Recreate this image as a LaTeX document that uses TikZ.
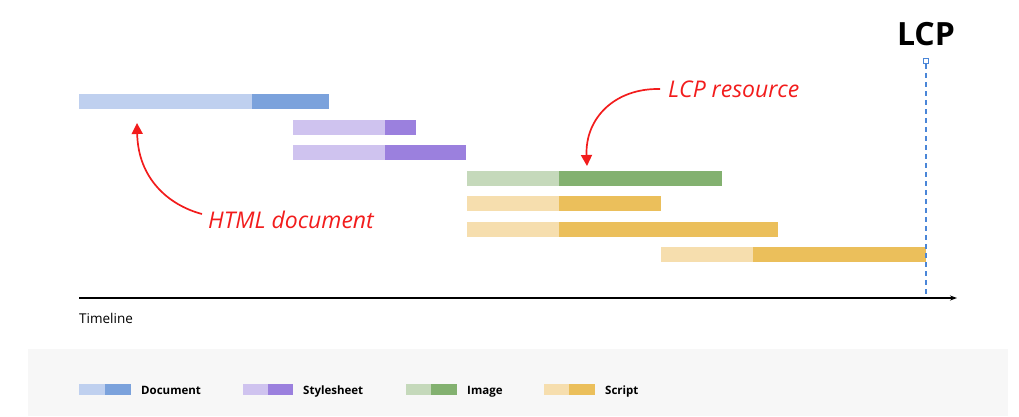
\documentclass[tikz,border=0pt]{standalone}
\usepackage{fontspec}
\setmainfont{Open Sans}
\usetikzlibrary{arrows.meta}
\definecolor{docL}{HTML}{BFD0EF}
\definecolor{docD}{HTML}{7BA2DC}
\definecolor{cssL}{HTML}{CFC3EF}
\definecolor{cssD}{HTML}{9B80DE}
\definecolor{imgL}{HTML}{C5D9BB}
\definecolor{imgD}{HTML}{83B170}
\definecolor{jsL}{HTML}{F6DEAE}
\definecolor{jsD}{HTML}{EBBF5B}
\definecolor{lcpblue}{HTML}{4A86D8}
\definecolor{legbg}{HTML}{F7F7F7}
\definecolor{annot}{HTML}{F21C1C}
\tikzset{
  anno/.style={text=annot, font=\fontsize{23}{25}\selectfont\itshape, inner sep=0pt},
  annoarrow/.style={draw=annot, line width=1.7pt, -{Triangle[length=11pt,width=11pt]}},
  legtext/.style={font=\fontsize{11.5}{13}\selectfont\bfseries, anchor=base west, inner sep=0pt},
}
\begin{document}
\begin{tikzpicture}[x=1pt,y=-1pt]
\useasboundingbox (0,0) rectangle (1019,416);
% legend background
\fill[legbg] (28,349) rectangle (1008,416);
% row 1 document
\fill[docL] (79,94) rectangle (252,109);
\fill[docD] (252,94) rectangle (329,109);
\coordinate (doctarget) at (137,123);
% row 2 stylesheet
\fill[cssL] (293,119.5) rectangle (385,134.5);
\fill[cssD] (385,119.5) rectangle (416,134.5);
% row 3 stylesheet
\fill[cssL] (293,145) rectangle (385,160);
\fill[cssD] (385,145) rectangle (466,160);
% row 4 image
\fill[imgL] (467,171) rectangle (559,186);
\fill[imgD] (559,171) rectangle (722,186);
\coordinate (imgtarget) at (587,166);
% row 5 script
\fill[jsL] (467,196) rectangle (559,211);
\fill[jsD] (559,196) rectangle (661,211);
% row 6 script
\fill[jsL] (467,222) rectangle (559,237);
\fill[jsD] (559,222) rectangle (778,237);
% row 7 script
\fill[jsL] (661,247) rectangle (753,262);
\fill[jsD] (753,247) rectangle (926,262);
% axis
\coordinate (axisstart) at (79,298);
\coordinate (axisend) at (957,298);
\draw[line width=1.2pt, -{Stealth[length=7pt,width=5pt]}] (axisstart) -- (axisend);
\node[font=\fontsize{13.5}{15}\selectfont, anchor=base west, inner sep=0pt] (timeline) at (79,323) {Timeline};
% LCP marker
\node[font=\fontsize{32}{34}\selectfont\bfseries, inner sep=0pt] (lcp) at (926,34) {LCP};
\node[draw=lcpblue, line width=1pt, fill=white, minimum size=5pt, inner sep=0pt] (lcpbox) at (926,61) {};
\coordinate (lcpbottom) at (926,297);
\draw[lcpblue, line width=1.3pt, dash pattern=on 5pt off 4pt] (lcpbox.south) -- (lcpbottom);
% annotations
\node[anno, anchor=west] (html) at (208,220) {HTML document};
\draw[annoarrow] ([xshift=-6pt,yshift=6pt]html.west)
  .. controls (168,205) and (138,178) .. (doctarget);
\node[anno, anchor=west] (lcpres) at (668,89) {LCP resource};
\draw[annoarrow] ([xshift=-8pt]lcpres.west) .. controls (615,88) and (585,118) .. (imgtarget);
% legend
\fill[docL] (79,384) rectangle (105,395);
\fill[docD] (105,384) rectangle (131,395);
\node[legtext] (ldoc) at (141,394) {Document};
\fill[cssL] (243,384) rectangle (268,395);
\fill[cssD] (268,384) rectangle (293,395);
\node[legtext] (lcss) at (303,394) {Stylesheet};
\fill[imgL] (406,384) rectangle (431,395);
\fill[imgD] (431,384) rectangle (457,395);
\node[legtext] (limg) at (467,394) {Image};
\fill[jsL] (544,384) rectangle (569,395);
\fill[jsD] (569,384) rectangle (595,395);
\node[legtext] (ljs) at (605,394) {Script};
\end{tikzpicture}
\end{document}
